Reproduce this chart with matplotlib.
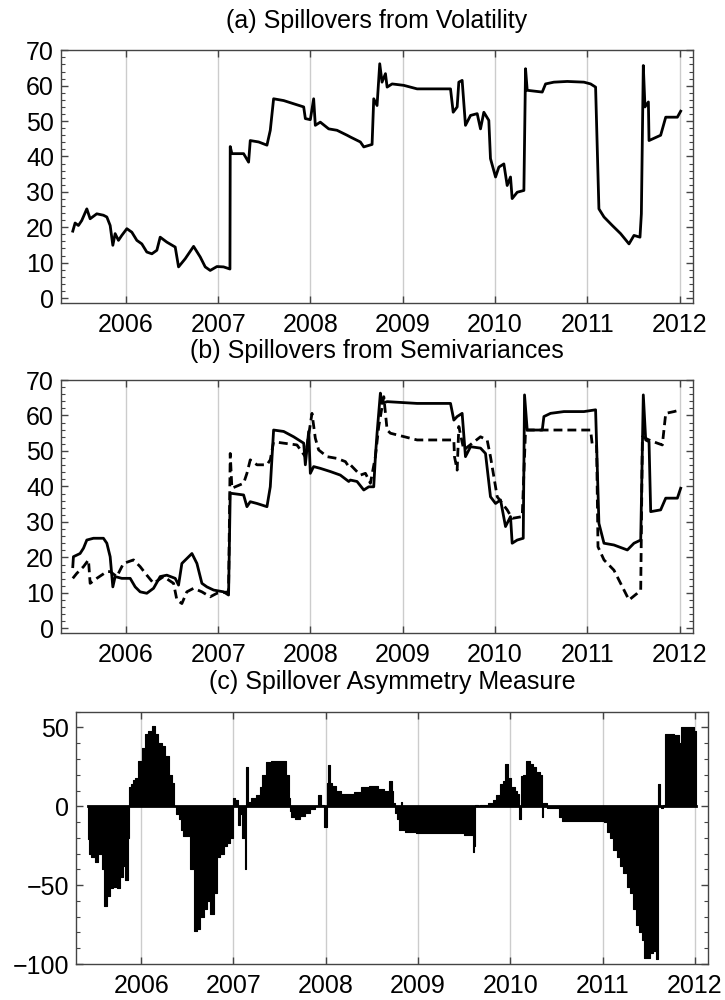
import matplotlib
matplotlib.use("Agg")
import matplotlib.pyplot as plt
import numpy as np
from matplotlib.ticker import MultipleLocator

plt.rcParams['font.family'] = ['Liberation Sans', 'DejaVu Sans']
plt.rcParams['font.size'] = 18

# (a) total spillover from volatility
yr_a = [2005.425, 2005.450, 2005.486, 2005.522, 2005.577, 2005.613, 2005.685, 2005.757, 2005.794, 2005.830,
        2005.859, 2005.884, 2005.920, 2005.956, 2006.011, 2006.065, 2006.119, 2006.173, 2006.227, 2006.282,
        2006.336, 2006.372, 2006.444, 2006.535, 2006.571, 2006.643, 2006.734, 2006.806, 2006.860, 2006.914,
        2006.987, 2007.059, 2007.128, 2007.131, 2007.149, 2007.276, 2007.330, 2007.348, 2007.439, 2007.529,
        2007.565, 2007.601, 2007.710, 2007.818, 2007.927, 2007.945, 2007.999, 2008.035, 2008.053, 2008.107,
        2008.198, 2008.288, 2008.397, 2008.433, 2008.541, 2008.578, 2008.668, 2008.686, 2008.722, 2008.751,
        2008.776, 2008.813, 2008.831, 2008.885, 2009.011, 2009.156, 2009.518, 2009.547, 2009.590, 2009.608,
        2009.644, 2009.680, 2009.735, 2009.807, 2009.843, 2009.879, 2009.933, 2009.951, 2010.006, 2010.042,
        2010.096, 2010.132, 2010.168, 2010.186, 2010.241, 2010.313, 2010.331, 2010.349, 2010.512, 2010.548,
        2010.638, 2010.783, 2010.964, 2011.036, 2011.090, 2011.126, 2011.181, 2011.271, 2011.361, 2011.452,
        2011.506, 2011.571, 2011.586, 2011.607, 2011.625, 2011.662, 2011.669, 2011.795, 2011.850, 2011.976,
        2012.012]
vol_a = [18.9, 21.2, 20.5, 21.9, 25.2, 22.4, 23.8, 23.4, 22.9, 20.5,
         14.9, 18.2, 16.3, 17.7, 19.6, 18.6, 16.3, 15.3, 13.0, 12.5,
         13.5, 17.2, 15.8, 14.4, 8.8, 11.1, 14.6, 11.6, 8.8, 7.8,
         8.9, 8.8, 8.2, 42.8, 40.8, 40.8, 38.4, 44.5, 44.1, 43.2,
         47.4, 56.3, 55.8, 54.9, 54.0, 50.7, 50.4, 56.3, 48.8, 49.7,
         47.8, 47.4, 46.0, 45.5, 44.1, 42.7, 43.4, 56.3, 54.4, 66.2,
         61.0, 63.4, 59.6, 60.5, 60.1, 59.1, 59.1, 52.5, 54.0, 61.0,
         61.5, 48.8, 51.6, 52.1, 47.8, 52.5, 50.2, 39.4, 34.2, 37.0,
         37.9, 31.8, 34.2, 28.1, 29.9, 30.4, 64.8, 58.7, 58.2, 60.5,
         61.0, 61.2, 61.0, 60.5, 59.6, 25.2, 22.9, 20.5, 18.2, 15.3,
         17.7, 17.2, 23.8, 65.7, 54.0, 55.4, 44.5, 46.0, 51.1, 51.1,
         52.8]

# (b) spillovers from semivariances: solid and dashed
yr_bs = [2005.425, 2005.432, 2005.504, 2005.541, 2005.577, 2005.649, 2005.757, 2005.794, 2005.830, 2005.859,
         2005.884, 2005.956, 2006.047, 2006.101, 2006.155, 2006.227, 2006.300, 2006.372, 2006.444, 2006.535,
         2006.571, 2006.607, 2006.716, 2006.770, 2006.824, 2006.878, 2006.951, 2007.059, 2007.113, 2007.131,
         2007.276, 2007.312, 2007.348, 2007.421, 2007.529, 2007.565, 2007.601, 2007.710, 2007.818, 2007.927,
         2007.945, 2007.981, 2007.999, 2008.035, 2008.107, 2008.216, 2008.324, 2008.415, 2008.433, 2008.505,
         2008.578, 2008.632, 2008.686, 2008.704, 2008.722, 2008.758, 2008.776, 2008.831, 2009.156, 2009.518,
         2009.554, 2009.590, 2009.644, 2009.680, 2009.735, 2009.843, 2009.897, 2009.951, 2010.006, 2010.060,
         2010.114, 2010.168, 2010.186, 2010.241, 2010.306, 2010.320, 2010.349, 2010.512, 2010.530, 2010.602,
         2010.747, 2010.964, 2011.090, 2011.126, 2011.181, 2011.289, 2011.434, 2011.506, 2011.579, 2011.607,
         2011.633, 2011.669, 2011.687, 2011.795, 2011.850, 2011.976, 2012.012]
val_bs = [17.4, 20.2, 21.1, 22.6, 24.9, 25.4, 25.4, 24.0, 20.2, 11.7,
          14.6, 14.1, 14.1, 11.7, 10.3, 9.9, 11.3, 14.6, 15.0, 14.1,
          12.2, 18.3, 21.1, 18.3, 12.7, 11.7, 10.8, 10.3, 9.4, 38.1,
          37.6, 34.3, 35.7, 35.2, 34.3, 39.9, 55.9, 55.5, 54.0, 52.2,
          46.1, 55.5, 43.7, 45.6, 45.1, 44.2, 43.2, 41.4, 41.8, 41.4,
          39.0, 39.9, 39.9, 48.4, 55.0, 66.3, 63.4, 63.9, 63.4, 63.4,
          58.7, 59.7, 60.6, 48.4, 51.2, 50.8, 49.3, 37.1, 35.2, 36.2,
          28.7, 31.5, 24.0, 24.9, 25.4, 65.8, 55.9, 55.9, 59.7, 60.6,
          61.1, 61.1, 61.6, 29.6, 24.0, 23.5, 22.1, 24.0, 24.9, 65.8,
          53.1, 52.6, 32.9, 33.4, 36.7, 36.7, 39.5]

yr_bd = [2005.425, 2005.468, 2005.541, 2005.595, 2005.613, 2005.685, 2005.794, 2005.830, 2005.902, 2005.974,
         2006.083, 2006.155, 2006.227, 2006.300, 2006.408, 2006.517, 2006.553, 2006.607, 2006.661, 2006.734,
         2006.824, 2006.914, 2006.987, 2007.113, 2007.131, 2007.149, 2007.276, 2007.312, 2007.348, 2007.421,
         2007.529, 2007.565, 2007.601, 2007.710, 2007.854, 2007.945, 2008.017, 2008.053, 2008.089, 2008.180,
         2008.288, 2008.379, 2008.415, 2008.433, 2008.541, 2008.596, 2008.650, 2008.704, 2008.740, 2008.795,
         2008.831, 2008.867, 2009.156, 2009.554, 2009.561, 2009.590, 2009.608, 2009.662, 2009.843, 2009.915,
         2009.951, 2010.024, 2010.132, 2010.186, 2010.295, 2010.331, 2010.530, 2010.964, 2011.036, 2011.054,
         2011.101, 2011.116, 2011.181, 2011.289, 2011.361, 2011.452, 2011.542, 2011.579, 2011.597, 2011.669,
         2011.759, 2011.813, 2011.850, 2011.940, 2012.012]
val_bd = [14.1, 15.5, 17.4, 19.3, 12.7, 14.1, 16.0, 16.0, 14.6, 18.3,
          19.3, 17.4, 15.0, 12.7, 14.6, 12.7, 8.0, 7.0, 10.3, 11.3,
          10.3, 8.9, 9.9, 10.3, 49.3, 39.5, 40.9, 43.7, 47.5, 46.1,
          46.1, 47.5, 52.6, 52.2, 51.7, 48.4, 60.6, 53.6, 50.3, 48.4,
          47.9, 47.0, 45.6, 46.1, 43.2, 43.7, 40.9, 48.4, 56.9, 65.3,
          55.9, 55.0, 53.1, 53.1, 48.4, 44.6, 56.9, 50.3, 54.0, 53.1,
          48.4, 37.1, 33.4, 31.0, 31.5, 55.9, 55.9, 55.9, 55.9, 51.7,
          51.7, 23.0, 19.3, 16.4, 12.7, 8.0, 9.9, 10.8, 54.0, 53.1,
          52.2, 51.7, 60.6, 61.1, 61.6]

# (c) spillover asymmetry measure
yr_c = [2005.427, 2005.438, 2005.481, 2005.518, 2005.554, 2005.590, 2005.608, 2005.645, 2005.681, 2005.717,
        2005.753, 2005.790, 2005.815, 2005.844, 2005.862, 2005.880, 2005.898, 2005.916, 2005.953, 2005.989,
        2006.025, 2006.061, 2006.097, 2006.134, 2006.170, 2006.206, 2006.242, 2006.279, 2006.315, 2006.351,
        2006.369, 2006.387, 2006.424, 2006.442, 2006.460, 2006.514, 2006.550, 2006.587, 2006.623, 2006.659,
        2006.695, 2006.732, 2006.768, 2006.804, 2006.840, 2006.877, 2006.913, 2006.949, 2006.985, 2007.003,
        2007.040, 2007.058, 2007.076, 2007.112, 2007.130, 2007.141, 2007.167, 2007.221, 2007.275, 2007.293,
        2007.330, 2007.366, 2007.438, 2007.547, 2007.583, 2007.612, 2007.620, 2007.638, 2007.692, 2007.746,
        2007.801, 2007.855, 2007.909, 2007.927, 2007.964, 2008.000, 2008.018, 2008.036, 2008.054, 2008.091,
        2008.127, 2008.199, 2008.272, 2008.344, 2008.417, 2008.525, 2008.598, 2008.670, 2008.706, 2008.725,
        2008.743, 2008.761, 2008.779, 2008.808, 2008.815, 2008.833, 2008.888, 2009.069, 2009.250, 2009.431,
        2009.576, 2009.605, 2009.612, 2009.630, 2009.667, 2009.685, 2009.721, 2009.794, 2009.830, 2009.866,
        2009.902, 2009.931, 2009.957, 2009.993, 2010.029, 2010.065, 2010.091, 2010.102, 2010.120, 2010.156,
        2010.192, 2010.228, 2010.265, 2010.301, 2010.337, 2010.344, 2010.355, 2010.392, 2010.410, 2010.518,
        2010.536, 2010.591, 2010.772, 2010.989, 2011.044, 2011.062, 2011.098, 2011.134, 2011.171, 2011.207,
        2011.243, 2011.279, 2011.315, 2011.352, 2011.381, 2011.406, 2011.442, 2011.460, 2011.496, 2011.533,
        2011.569, 2011.598, 2011.612, 2011.623, 2011.641, 2011.670, 2011.685, 2011.750, 2011.805, 2011.841,
        2011.859, 2011.932, 2011.986, 2012.004, 2012.012]
sam_c = [-21, -30, -32, -35, -30, -40, -63, -57, -52, -51,
         -52, -45, -38, -47, -20, 12, 14, 17, 18, 29,
         37, 46, 48, 51, 46, 40, 38, 32, 20, 15,
         0, -5, -8, -15, -19, -19, -40, -79, -78, -70,
         -65, -60, -68, -55, -32, -30, -25, -23, -20, 5,
         4, -12, -5, -20, -40, 25, 3, 5, 7, 12,
         20, 28, 29, 29, 20, 5, -3, -7, -8, -6,
         -4, -2, 0, 7, 1, -13, 15, 26, 15, 13,
         10, 8, 8, 9, 12, 13, 11, 10, 16, 10,
         2, -4, -8, -15, 3, -15, -16, -17, -17, -17,
         -18, -29, -25, 1, 0, 1, 1, 2, 4, 7,
         14, 16, 27, 18, 12, 10, 8, -8, 19, 20,
         29, 27, 25, 22, 20, -7, 2, 2, -1, -1,
         -7, -9, -9, -9, -10, -16, -20, -28, -32, -38,
         -42, -51, -55, -65, -75, -80, -85, -96, -96, -93,
         -92, -97, 14, 0, -1, 1, 46, 46, 45, 40,
         50, 50, 50, 48, 45]

years = [2006, 2007, 2008, 2009, 2010, 2011, 2012]
titles = ['(a) Spillovers from Volatility', '(b) Spillovers from Semivariances',
          '(c) Spillover Asymmetry Measure']

fig = plt.figure(figsize=(7.25, 10), dpi=100)
ax_a = fig.add_axes([0.0841, 0.697, 0.8717, 0.2527])
ax_b = fig.add_axes([0.0841, 0.367, 0.8717, 0.2530])
ax_c = fig.add_axes([0.1052, 0.036, 0.8717, 0.2523])

frame = '#444444'
for ax, t in zip([ax_a, ax_b, ax_c], titles):
    ax.set_xlim(2005.297, 2012.145)
    ax.set_xticks(years)
    ax.set_xticklabels([str(y) for y in years])
    ax.grid(True, axis='x', color='#cccccc', linewidth=1.0)
    ax.set_axisbelow(True)
    ax.tick_params(which='both', direction='in', top=True, right=True, color=frame)
    ax.tick_params(which='major', length=5, width=1)
    ax.tick_params(which='minor', length=3, width=0.8)
    ax.tick_params(axis='x', pad=7, labelsize=18)
    ax.tick_params(axis='y', pad=5, labelsize=18)
    for s in ax.spines.values():
        s.set_color(frame)
        s.set_linewidth(1.0)
    ax.set_title(t, fontsize=18, pad=16)

ax_a.plot(yr_a, vol_a, color='black', linewidth=2.0)
ax_a.set_ylim(-1.4, 70)
ax_a.set_yticks(range(0, 71, 10))
ax_a.yaxis.set_minor_locator(MultipleLocator(2))

ax_b.plot(yr_bs, val_bs, color='black', linewidth=2.0)
ax_b.plot(yr_bd, val_bd, color='black', linewidth=2.0, dashes=(3.2, 1.8))
ax_b.set_ylim(-1.3, 70)
ax_b.set_yticks(range(0, 71, 10))
ax_b.yaxis.set_minor_locator(MultipleLocator(2))

# filled to the axis, bar-like steps
ax_c.fill_between(yr_c, sam_c, 0, step='mid', color='black', linewidth=0.8)
ax_c.plot([yr_c[0], yr_c[-1]], [0, 0], color='black', linewidth=2)
ax_c.set_ylim(-100, 60)
ax_c.set_yticks([-100, -50, 0, 50])
ax_c.yaxis.set_minor_locator(MultipleLocator(10))

fig.savefig('out.png', dpi=100)
